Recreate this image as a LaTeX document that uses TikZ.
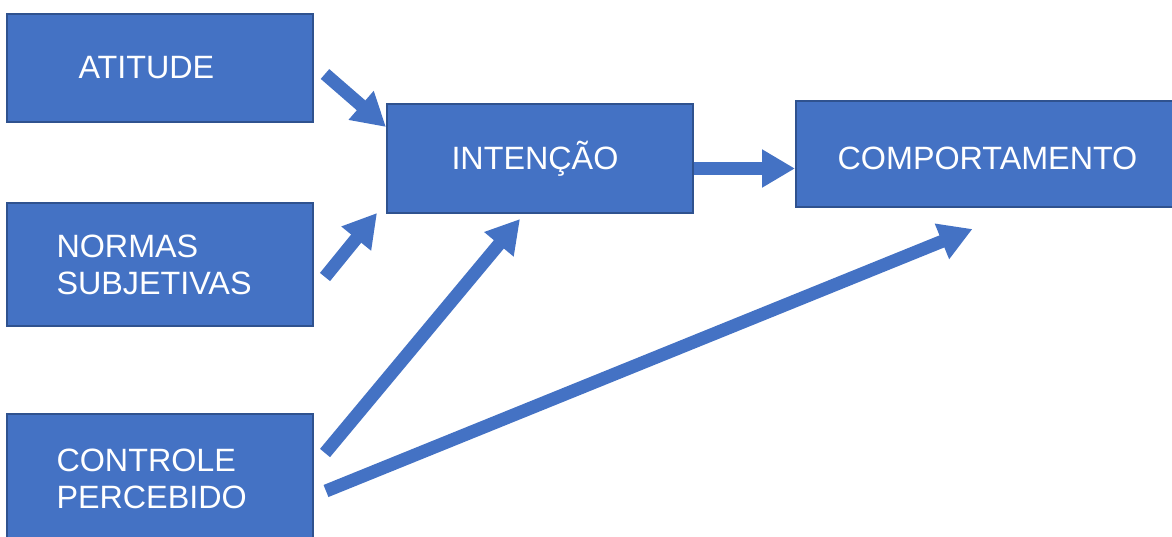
\documentclass[tikz,border=0pt]{standalone}
\usepackage{fontspec}
\setmainfont{Liberation Sans}
\usetikzlibrary{arrows.meta}
\definecolor{azul}{HTML}{4472C4}
\definecolor{borda}{HTML}{2F528F}
\tikzset{
	caixa/.style={draw=borda, line width=2pt, fill=azul, text=white, inner sep=0pt,
		font=\fontsize{32.3}{37}\selectfont},
	seta/.style={draw=azul, line width=13pt, -{Triangle[length=33pt,width=36pt]}}
}
\begin{document}
\begin{tikzpicture}[x=1pt,y=1pt]
		\useasboundingbox (0,0) rectangle (1172,536);
		\clip (0,0) rectangle (1172,536);
		\node[caixa, minimum width=306pt, minimum height=108pt, text width=163pt, align=left] (atitude) at (160,468) {ATITUDE};
		\node[caixa, minimum width=306pt, minimum height=123pt, text width=207pt, align=left] (normas) at (160,271.5) {NORMAS\\SUBJETIVAS};
		\node[caixa, minimum width=306pt, minimum height=130pt, text width=207pt, align=left] (controle) at (160,57) {CONTROLE\\PERCEBIDO};
		\node[caixa, minimum width=306pt, minimum height=109pt, text width=177pt, align=left] (intencao) at (540,377.5) {INTENÇÃO};
		\node[caixa, minimum width=383pt, minimum height=106pt, text height=32pt] (comport) at (987.5,382) {COMPORTAMENTO};
		\draw[seta] ([shift={(11,-6)}]atitude.east) -- ([yshift=-24pt]intencao.north west);
		\draw[seta] ([shift={(11,-12.5)}]normas.east) -- ([shift={(-9,1)}]intencao.south west);
		\draw[seta] ([shift={(11,26)}]controle.east) -- ([shift={(-20,-5)}]intencao.south);
		\draw[seta] ([shift={(12,-12)}]controle.east) -- ([shift={(-15,-21)}]comport.south);
		\draw[seta] ([yshift=-10pt]intencao.east) -- ([yshift=-10pt]intencao.east -| comport.west);
	% teoria do comportamento planejado
	\end{tikzpicture}
\end{document}
